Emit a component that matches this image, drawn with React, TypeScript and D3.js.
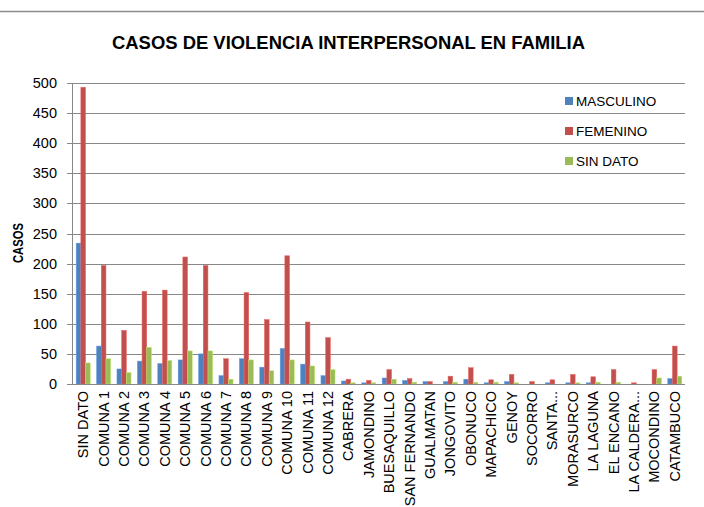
import React from 'react'
import * as d3 from 'd3'

const categories = [
  'SIN DATO', 'COMUNA 1', 'COMUNA 2', 'COMUNA 3', 'COMUNA 4', 'COMUNA 5',
  'COMUNA 6', 'COMUNA 7', 'COMUNA 8', 'COMUNA 9', 'COMUNA 10', 'COMUNA 11',
  'COMUNA 12', 'CABRERA', 'JAMONDINO', 'BUESAQUILLO', 'SAN FERNANDO',
  'GUALMATAN', 'JONGOVITO', 'OBONUCO', 'MAPACHICO', 'GENOY', 'SOCORRO',
  'SANTA...', 'MORASURCO', 'LA LAGUNA', 'EL ENCANO', 'LA CALDERA...',
  'MOCONDINO', 'CATAMBUCO'
]

const masculino = [234, 63, 25, 38, 34, 40, 50, 14, 42, 28, 59, 33, 14, 5, 2, 10, 6, 4, 4, 8, 2, 4, 0, 2, 2, 2, 0, 0, 0, 9]
const femenino = [493, 197, 89, 154, 156, 211, 197, 42, 152, 107, 213, 103, 77, 8, 6, 24, 9, 4, 13, 27, 7, 16, 4, 7, 16, 12, 24, 2, 24, 63]
const sinDato = [35, 42, 19, 61, 39, 55, 55, 8, 40, 22, 40, 30, 24, 2, 2, 8, 3, 0, 3, 3, 3, 2, 0, 0, 2, 3, 3, 0, 10, 13]

const seriesNames = ['MASCULINO', 'FEMENINO', 'SIN DATO']
const seriesColors = ['#4F81BD', '#C0504D', '#9BBB59']
const yTicks = [0, 50, 100, 150, 200, 250, 300, 350, 400, 450, 500]

const W = 704
const H = 507
const left = 73
const right = 685
const top = 83
const bottom = 384
const font = '"Liberation Sans", Arial, sans-serif'

export default function App() {
  const series = [masculino, femenino, sinDato]

  const x = d3.scaleBand<string>().domain(categories).range([left, right]).paddingInner(0.31).paddingOuter(0.155)
  const xs = d3.scaleBand<number>().domain([0, 1, 2]).range([0, x.bandwidth()])
  const y = d3.scaleLinear().domain([0, 500]).range([bottom, top])

  return (
    <svg width={W} height={H} style={{ position: 'absolute', left: 0, top: 0, background: '#fff' }} fontFamily={font}>
      <line x1={0} x2={W} y1={11.5} y2={11.5} stroke="#8c8c8c" strokeWidth={1.5} />
      <text x={348.5} y={49} textAnchor="middle" fontWeight="bold" fontSize={18} textLength={473} lengthAdjust="spacingAndGlyphs">
        CASOS DE VIOLENCIA INTERPERSONAL EN FAMILIA
      </text>

      {/* grid lines + y ticks */}
      {yTicks.map(t => (
        <g key={t}>
          <line x1={67} x2={right} y1={Math.round(y(t)) + 0.5} y2={Math.round(y(t)) + 0.5} stroke="#888" strokeWidth={1} />
          <text x={57} y={y(t)} dy="0.35em" textAnchor="end" fontSize={14.5} fill="#000">{t}</text>
        </g>
      ))}
      <line x1={left - 0.5} x2={left - 0.5} y1={top} y2={bottom} stroke="#888" />

      {/* bars */}
      {categories.map((c, i) => (
        <g key={c} transform={`translate(${x(c)},0)`}>
          {series.map((s, k) => (
            s[i] > 0 ? (
              <rect key={k} x={xs(k)} y={y(s[i])} width={xs.bandwidth()} height={bottom - y(s[i])}
                fill={seriesColors[k]} stroke={d3.color(seriesColors[k])!.brighter(0.6).toString()} strokeWidth={0.5} />
            ) : null
          ))}
        </g>
      ))}
      <line x1={left} x2={right} y1={bottom + 0.5} y2={bottom + 0.5} stroke="#888" />

      {/* x labels */}
      {categories.map(c => (
        <text key={c} transform={`translate(${x(c)! + x.bandwidth() / 2},391) rotate(-90)`} dy="0.35em"
          textAnchor="end" fontSize={14.5} fill="#000">{c}</text>
      ))}

      <text transform="translate(18,243) rotate(-90)" dy="0.35em" textAnchor="middle" fontWeight="bold" fontSize={14}
        textLength={40} lengthAdjust="spacingAndGlyphs">CASOS</text>

      {/* legend */}
      {seriesNames.map((n, k) => (
        <g key={n} transform={`translate(565,${101 + k * 30})`}>
          <rect x={0} y={-4} width={8} height={8} fill={seriesColors[k]} />
          <text x={11} y={0} dy="0.35em" fontSize={13.5}>{n}</text>
        </g>
      ))}
    </svg>
  )
}
